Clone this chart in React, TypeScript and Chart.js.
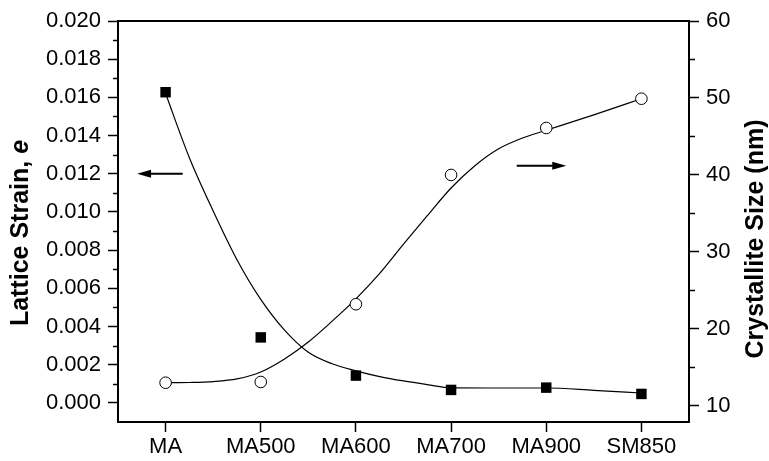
import React, { useEffect, useRef } from "react";
import { Chart, registerables } from "chart.js";

Chart.register(...registerables);

const categories = ["MA", "MA500", "MA600", "MA700", "MA900", "SM850"];
const latticeStrain = [0.01627, 0.00343, 0.00143, 0.00068, 0.0008, 0.00047];
const crystalliteSize = [13.0, 13.1, 23.2, 40.0, 46.1, 49.9];

// smooth fit curves at quarter-category steps
const strainFitX = [0, 0.25, 0.5, 0.75, 1, 1.25, 1.5, 1.75, 2, 2.25, 2.5, 2.75, 3, 3.5, 4, 4.5, 5];
const strainFit = [0.0162, 0.01284, 0.01005, 0.0075, 0.00542, 0.00381, 0.00265, 0.00205, 0.00168, 0.00138, 0.00115, 0.00096, 0.00079, 0.00078, 0.00078, 0.00066, 0.00052];
const sizeFitX = [0, 0.25, 0.5, 0.75, 1, 1.25, 1.5, 1.75, 2, 2.25, 2.5, 2.75, 3, 3.25, 3.5, 3.75, 4, 4.5, 5];
const sizeFit = [13.0, 13.03, 13.15, 13.5, 14.4, 16.1, 18.3, 21.0, 23.9, 27.2, 31.0, 34.7, 38.3, 41.2, 43.4, 44.8, 45.8, 47.8, 49.9];

const leftTicks = [0, 0.002, 0.004, 0.006, 0.008, 0.01, 0.012, 0.014, 0.016, 0.018, 0.02];
const leftMinor = [0.001, 0.003, 0.005, 0.007, 0.009, 0.011, 0.013, 0.015, 0.017, 0.019];
const rightTicks = [10, 20, 30, 40, 50, 60];
const rightMinor = [15, 25, 35, 45, 55];

const leftTitle = "Lattice Strain, ";
const leftTitleItalic = "e";
const rightTitle = "Crystallite Size (nm)";

const FONT = "'Liberation Sans', Arial, Helvetica, sans-serif";

const decorPlugin = {
  id: "decor",
  afterDraw(chart: any) {
    const ctx = chart.ctx;
    const { left, right, top } = chart.chartArea;
    const xs = chart.scales.x;
    const ys = chart.scales.y;
    const y1 = chart.scales.y1;
    ctx.save();
    ctx.strokeStyle = "#000";
    ctx.fillStyle = "#000";
    // top frame line
    ctx.lineWidth = 2;
    ctx.beginPath();
    ctx.moveTo(left - 1, top);
    ctx.lineTo(right + 1, top);
    ctx.stroke();
    // minor ticks
    ctx.lineWidth = 1.5;
    leftMinor.forEach((v) => {
      const p = Math.round(ys.getPixelForValue(v)) + 0.5;
      ctx.beginPath();
      ctx.moveTo(left, p);
      ctx.lineTo(left - 5, p);
      ctx.stroke();
    });
    rightMinor.forEach((v) => {
      const p = Math.round(y1.getPixelForValue(v)) + 0.5;
      ctx.beginPath();
      ctx.moveTo(right, p);
      ctx.lineTo(right + 6, p);
      ctx.stroke();
    });
    // arrows
    const arrow = (x0: number, x1: number, y: number) => {
      ctx.lineWidth = 2;
      const dir = Math.sign(x1 - x0);
      ctx.beginPath();
      ctx.moveTo(x0, y);
      ctx.lineTo(x1 - dir * 10, y);
      ctx.stroke();
      ctx.beginPath();
      ctx.moveTo(x1, y);
      ctx.lineTo(x1 - dir * 14, y - 4);
      ctx.lineTo(x1 - dir * 14, y + 4);
      ctx.closePath();
      ctx.fill();
    };
    arrow(xs.getPixelForValue(0.18), xs.getPixelForValue(-0.3), ys.getPixelForValue(0.012));
    arrow(xs.getPixelForValue(3.69), xs.getPixelForValue(4.21), y1.getPixelForValue(41.2));
    // axis titles
    ctx.textBaseline = "middle";
    ctx.save();
    ctx.translate(21, 233);
    ctx.rotate(-Math.PI / 2);
    ctx.font = `bold 25px ${FONT}`;
    const w1 = ctx.measureText(leftTitle).width;
    ctx.font = `italic bold 25px ${FONT}`;
    const w2 = ctx.measureText(leftTitleItalic).width;
    const start = -(w1 + w2) / 2;
    ctx.textAlign = "left";
    ctx.font = `bold 25px ${FONT}`;
    ctx.fillText(leftTitle, start, 0);
    ctx.font = `italic bold 25px ${FONT}`;
    ctx.fillText(leftTitleItalic, start + w1, 0);
    ctx.restore();
    ctx.save();
    ctx.translate(756, 239);
    ctx.rotate(-Math.PI / 2);
    ctx.font = `bold 25px ${FONT}`;
    ctx.textAlign = "center";
    ctx.fillText(rightTitle, 0, 0);
    ctx.restore();
    ctx.restore();
  },
};

export default function App() {
  const ref = useRef<HTMLCanvasElement | null>(null);
  useEffect(() => {
    if (!ref.current) return;
    const tickFont = { family: FONT, size: 22 };
    const chart = new Chart(ref.current, {
      type: "scatter",
      data: {
        datasets: [
          {
            data: strainFitX.map((x, i) => ({ x, y: strainFit[i] })),
            yAxisID: "y",
            showLine: true,
            pointRadius: 0,
            borderColor: "#000",
            borderWidth: 1.2,
            cubicInterpolationMode: "monotone",
            order: 2,
          },
          {
            data: sizeFitX.map((x, i) => ({ x, y: sizeFit[i] })),
            yAxisID: "y1",
            showLine: true,
            pointRadius: 0,
            borderColor: "#000",
            borderWidth: 1.2,
            cubicInterpolationMode: "monotone",
            order: 2,
          },
          {
            data: categories.map((_, i) => ({ x: i, y: latticeStrain[i] })),
            yAxisID: "y",
            showLine: false,
            pointStyle: "rect",
            pointRadius: 7.4,
            backgroundColor: "#000",
            borderColor: "#000",
            borderWidth: 0,
            order: 0,
          },
          {
            data: categories.map((_, i) => ({ x: i, y: crystalliteSize[i] })),
            yAxisID: "y1",
            showLine: false,
            pointStyle: "circle",
            pointRadius: 5.8,
            backgroundColor: "#fff",
            borderColor: "#000",
            borderWidth: 1,
            order: 0,
          },
        ],
      },
      options: {
        responsive: false,
        animation: false,
        layout: { padding: { top: 21, left: 0, right: 0, bottom: 0 } },
        plugins: { legend: { display: false }, tooltip: { enabled: false } },
        scales: {
          x: {
            type: "linear",
            min: -0.5,
            max: 5.5,
            afterBuildTicks: (s: any) => {
              s.ticks = categories.map((_, i) => ({ value: i }));
            },
            afterFit: (s: any) => {
              s.height = 39;
            },
            ticks: {
              callback: (v: any) => categories[v as number],
              font: tickFont,
              color: "#000",
              padding: 2,
              maxRotation: 0,
              autoSkip: false,
            },
            grid: { drawOnChartArea: false, tickLength: 10, tickColor: "#000", tickWidth: 1.5 },
            border: { color: "#000", width: 2 },
          },
          y: {
            position: "left",
            min: -0.001,
            max: 0.02,
            afterBuildTicks: (s: any) => {
              s.ticks = leftTicks.map((v) => ({ value: v }));
            },
            afterFit: (s: any) => {
              s.width = 118;
            },
            ticks: {
              callback: (v: any) => Number(v).toFixed(3),
              font: tickFont,
              color: "#000",
              padding: 7,
            },
            grid: { drawOnChartArea: false, tickLength: 10, tickColor: "#000", tickWidth: 1.5 },
            border: { color: "#000", width: 2 },
          },
          y1: {
            position: "right",
            min: 7.9,
            max: 60,
            afterBuildTicks: (s: any) => {
              s.ticks = rightTicks.map((v) => ({ value: v }));
            },
            afterFit: (s: any) => {
              s.width = 80;
            },
            ticks: {
              callback: (v: any) => String(v),
              font: tickFont,
              color: "#000",
              padding: 7,
            },
            grid: { drawOnChartArea: false, tickLength: 10, tickColor: "#000", tickWidth: 1.5 },
            border: { color: "#000", width: 2 },
          },
        },
      } as any,
      plugins: [decorPlugin],
    });
    return () => chart.destroy();
  }, []);
  return (
    <div style={{ position: "fixed", left: 0, top: 0, width: 769, height: 461, background: "#fff" }}>
      <canvas ref={ref} width={769} height={461} />
    </div>
  );
}
